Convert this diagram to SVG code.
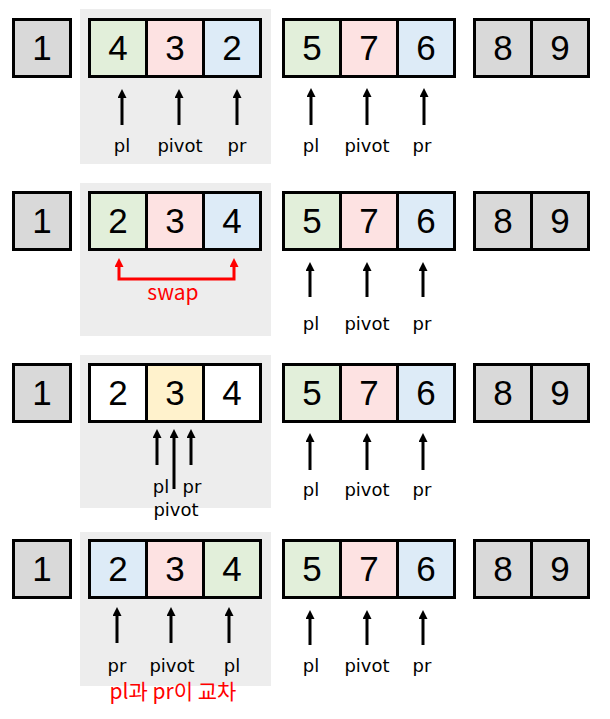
<svg xmlns="http://www.w3.org/2000/svg" width="610" height="719" viewBox="0 0 610 719">
<style>
.bg{fill:#ededed}
.c{stroke:#000;stroke-width:3}
.g{fill:#e2efda}.p{fill:#fde2e2}.b{fill:#ddebf7}.k{fill:#d9d9d9}.w{fill:#fff}.y{fill:#fff2cc}
.n{font-family:"Liberation Sans",Arial,sans-serif;font-size:35px;fill:#000;text-anchor:middle}
.l{font-family:"DejaVu Sans",sans-serif;font-size:18px;fill:#000;text-anchor:middle}
.a{stroke:#000;stroke-width:3;fill:none;marker-end:url(#ah)}
.r{stroke:#f00;stroke-width:3;fill:none;marker-start:url(#rh);marker-end:url(#rh)}
.rt{font-family:"Noto Sans CJK KR","DejaVu Sans",sans-serif;font-size:21px;fill:#f00;text-anchor:middle}
</style>
<defs>
<marker id="ah" markerUnits="userSpaceOnUse" markerWidth="10" markerHeight="10" refX="2" refY="4.5" orient="auto"><path d="M0,0 L9,4.5 L0,9 z" fill="#000"/></marker>
<marker id="rh" markerUnits="userSpaceOnUse" markerWidth="10" markerHeight="10" refX="2" refY="4.5" orient="auto-start-reverse"><path d="M0,0 L9,4.5 L0,9 z" fill="#f00"/></marker>
</defs>

<!-- backgrounds -->
<rect class="bg" x="80" y="9" width="191" height="155"/>
<rect class="bg" x="80" y="183" width="191" height="153"/>
<rect class="bg" x="80" y="355" width="191" height="153"/>
<rect class="bg" x="80" y="532" width="191" height="154"/>

<!-- Row 1 -->
<g id="r1-one"><rect class="c k" x="13.5" y="19.5" width="57" height="57"/><text class="n" x="42" y="60">1</text></g>
<g id="r1-left">
<rect class="c g" x="89.5" y="19.5" width="57" height="57"/><rect class="c p" x="146.5" y="19.5" width="57" height="57"/><rect class="c b" x="203.5" y="19.5" width="57" height="57"/>
<text class="n" x="118" y="60">4</text><text class="n" x="175" y="60">3</text><text class="n" x="232" y="60">2</text>
</g>
<g id="r1-right">
<rect class="c g" x="283.5" y="19.5" width="57" height="57"/><rect class="c p" x="340.5" y="19.5" width="57" height="57"/><rect class="c b" x="397.5" y="19.5" width="57" height="57"/>
<text class="n" x="312" y="60">5</text><text class="n" x="369" y="60">7</text><text class="n" x="426" y="60">6</text>
</g>
<g id="r1-done">
<rect class="c k" x="474.5" y="19.5" width="57" height="57"/><rect class="c k" x="531.5" y="19.5" width="57" height="57"/>
<text class="n" x="503" y="60">8</text><text class="n" x="560" y="60">9</text>
</g>

<!-- Row 2 -->
<g id="r2-one"><rect class="c k" x="13.5" y="192.5" width="57" height="57"/><text class="n" x="42" y="233">1</text></g>
<g id="r2-left">
<rect class="c g" x="89.5" y="192.5" width="57" height="57"/><rect class="c p" x="146.5" y="192.5" width="57" height="57"/><rect class="c b" x="203.5" y="192.5" width="57" height="57"/>
<text class="n" x="118" y="233">2</text><text class="n" x="175" y="233">3</text><text class="n" x="232" y="233">4</text>
</g>
<g id="r2-right">
<rect class="c g" x="283.5" y="192.5" width="57" height="57"/><rect class="c p" x="340.5" y="192.5" width="57" height="57"/><rect class="c b" x="397.5" y="192.5" width="57" height="57"/>
<text class="n" x="312" y="233">5</text><text class="n" x="369" y="233">7</text><text class="n" x="426" y="233">6</text>
</g>
<g id="r2-done">
<rect class="c k" x="474.5" y="192.5" width="57" height="57"/><rect class="c k" x="531.5" y="192.5" width="57" height="57"/>
<text class="n" x="503" y="233">8</text><text class="n" x="560" y="233">9</text>
</g>

<!-- Row 3 -->
<g id="r3-one"><rect class="c k" x="13.5" y="364.5" width="57" height="57"/><text class="n" x="42" y="405">1</text></g>
<g id="r3-left">
<rect class="c w" x="89.5" y="364.5" width="57" height="57"/><rect class="c y" x="146.5" y="364.5" width="57" height="57"/><rect class="c w" x="203.5" y="364.5" width="57" height="57"/>
<text class="n" x="118" y="405">2</text><text class="n" x="175" y="405">3</text><text class="n" x="232" y="405">4</text>
</g>
<g id="r3-right">
<rect class="c g" x="283.5" y="364.5" width="57" height="57"/><rect class="c p" x="340.5" y="364.5" width="57" height="57"/><rect class="c b" x="397.5" y="364.5" width="57" height="57"/>
<text class="n" x="312" y="405">5</text><text class="n" x="369" y="405">7</text><text class="n" x="426" y="405">6</text>
</g>
<g id="r3-done">
<rect class="c k" x="474.5" y="364.5" width="57" height="57"/><rect class="c k" x="531.5" y="364.5" width="57" height="57"/>
<text class="n" x="503" y="405">8</text><text class="n" x="560" y="405">9</text>
</g>

<!-- Row 4 -->
<g id="r4-one"><rect class="c k" x="13.5" y="540.5" width="57" height="57"/><text class="n" x="42" y="581">1</text></g>
<g id="r4-left">
<rect class="c b" x="89.5" y="540.5" width="57" height="57"/><rect class="c p" x="146.5" y="540.5" width="57" height="57"/><rect class="c g" x="203.5" y="540.5" width="57" height="57"/>
<text class="n" x="118" y="581">2</text><text class="n" x="175" y="581">3</text><text class="n" x="232" y="581">4</text>
</g>
<g id="r4-right">
<rect class="c g" x="283.5" y="540.5" width="57" height="57"/><rect class="c p" x="340.5" y="540.5" width="57" height="57"/><rect class="c b" x="397.5" y="540.5" width="57" height="57"/>
<text class="n" x="312" y="581">5</text><text class="n" x="369" y="581">7</text><text class="n" x="426" y="581">6</text>
</g>
<g id="r4-done">
<rect class="c k" x="474.5" y="540.5" width="57" height="57"/><rect class="c k" x="531.5" y="540.5" width="57" height="57"/>
<text class="n" x="503" y="581">8</text><text class="n" x="560" y="581">9</text>
</g>

<!-- connectors -->
<g id="connectors">
<line class="a" x1="122" y1="125" x2="122" y2="96"/>
<line class="a" x1="179" y1="125" x2="179" y2="96"/>
<line class="a" x1="237" y1="125" x2="237" y2="96"/>
<line class="a" x1="311" y1="125" x2="311" y2="95"/>
<line class="a" x1="367" y1="125" x2="367" y2="95"/>
<line class="a" x1="424" y1="125" x2="424" y2="95"/>

<path class="r" d="M119,265 V279 H234 V265"/>
<line class="a" x1="310" y1="297" x2="310" y2="269"/>
<line class="a" x1="367" y1="297" x2="367" y2="269"/>
<line class="a" x1="423" y1="297" x2="423" y2="269"/>

<line class="a" x1="157" y1="465" x2="157" y2="436"/>
<line class="a" x1="174" y1="489" x2="174" y2="436"/>
<line class="a" x1="191" y1="465" x2="191" y2="436"/>
<line class="a" x1="310" y1="470" x2="310" y2="440"/>
<line class="a" x1="367" y1="470" x2="367" y2="440"/>
<line class="a" x1="423" y1="470" x2="423" y2="440"/>

<line class="a" x1="117" y1="643" x2="117" y2="614"/>
<line class="a" x1="171" y1="643" x2="171" y2="614"/>
<line class="a" x1="229" y1="643" x2="229" y2="614"/>
<line class="a" x1="310" y1="645" x2="310" y2="617"/>
<line class="a" x1="367" y1="645" x2="367" y2="617"/>
<line class="a" x1="423" y1="645" x2="423" y2="617"/>
</g>

<!-- labels -->
<g id="labels">
<text class="l" x="122" y="152">pl</text><text class="l" x="180" y="152">pivot</text><text class="l" x="237" y="152">pr</text>
<text class="l" x="311" y="152">pl</text><text class="l" x="367" y="152">pivot</text><text class="l" x="422" y="152">pr</text>
<text class="rt" x="173" y="300">swap</text>
<text class="l" x="311" y="330">pl</text><text class="l" x="367" y="330">pivot</text><text class="l" x="422" y="330">pr</text>
<text class="l" x="161" y="493">pl</text><text class="l" x="192" y="493">pr</text><text class="l" x="176" y="516">pivot</text>
<text class="l" x="311" y="496">pl</text><text class="l" x="367" y="496">pivot</text><text class="l" x="422" y="496">pr</text>
<text class="l" x="117" y="672">pr</text><text class="l" x="172" y="672">pivot</text><text class="l" x="232" y="672">pl</text>
<text class="l" x="311" y="672">pl</text><text class="l" x="367" y="672">pivot</text><text class="l" x="422" y="672">pr</text>
<text class="rt" x="173" y="699">pl과 pr이 교차</text>
</g>
</svg>
